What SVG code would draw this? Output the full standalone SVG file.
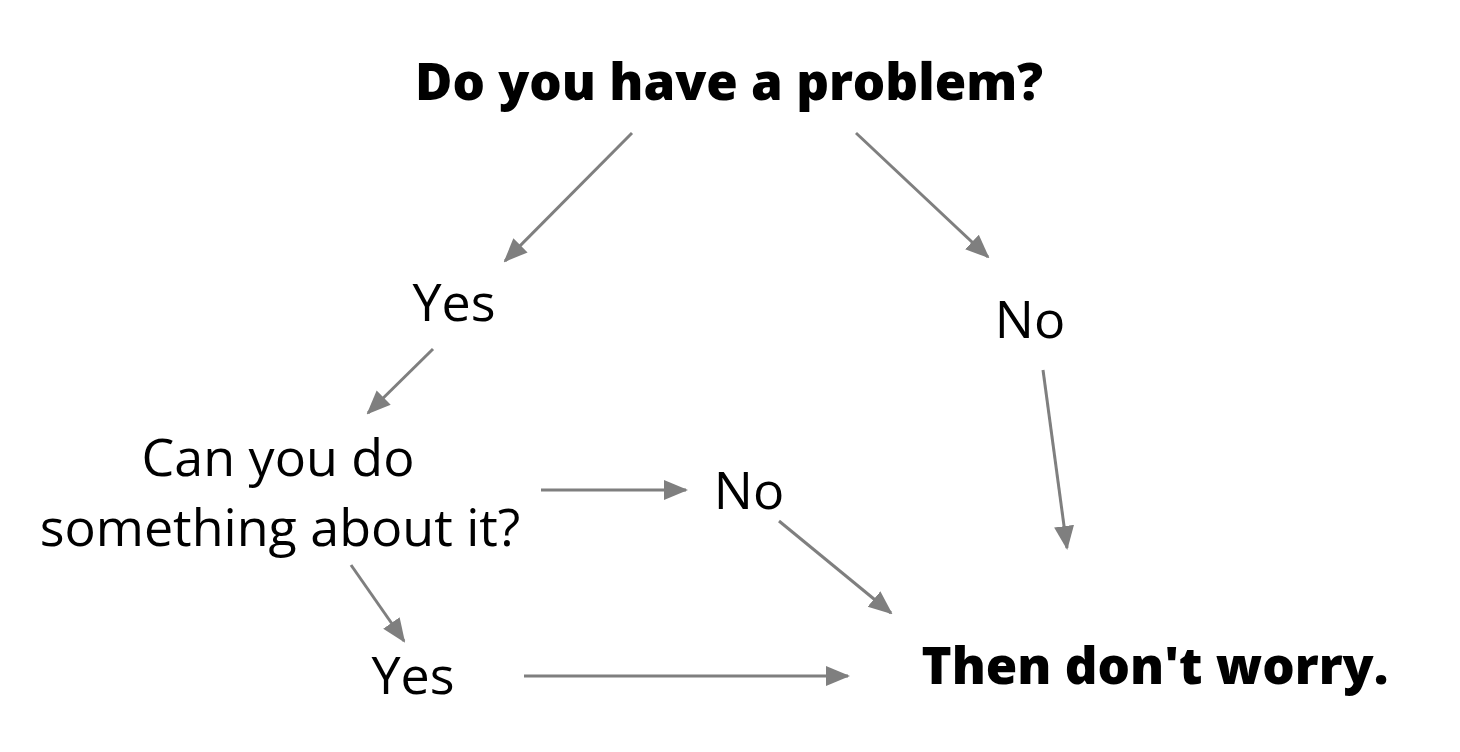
<svg xmlns="http://www.w3.org/2000/svg" width="1460" height="752" viewBox="0 0 1460 752">
<style>
.t{font-family:"Open Sans","Noto Sans",sans-serif;font-size:52px;fill:#000;text-anchor:middle}
.b{font-weight:800;font-size:51px}
.c line{stroke:#7f7f7f;stroke-width:3;marker-end:url(#ah)}
</style>
<defs>
<marker id="ah" markerUnits="userSpaceOnUse" markerWidth="24" markerHeight="24" viewBox="0 0 24 24" refX="22" refY="12" orient="auto">
<path d="M0,2 L24,12 L0,22 Z" fill="#7f7f7f"/>
</marker>
</defs>
<rect width="1460" height="752" fill="#fff"/>
<g class="c" id="connectors">
<line x1="632" y1="133" x2="505" y2="261"/>
<line x1="856" y1="133" x2="988" y2="257"/>
<line x1="433" y1="349" x2="368" y2="413"/>
<line x1="541" y1="490" x2="686" y2="490"/>
<line x1="779" y1="521" x2="891" y2="613"/>
<line x1="1043" y1="370" x2="1067" y2="548"/>
<line x1="351" y1="565" x2="404" y2="641"/>
<line x1="524" y1="676" x2="848" y2="676"/>
</g>
<g id="q1"><text class="t b" x="729" y="100">Do you have a problem?</text></g>
<g id="yes1"><text class="t" x="454" y="321">Yes</text></g>
<g id="no1"><text class="t" x="1030" y="338">No</text></g>
<g id="q2"><text class="t" x="278" y="476">Can you do</text><text class="t" x="280" y="546">something about it?</text></g>
<g id="no2"><text class="t" x="749" y="509">No</text></g>
<g id="yes2"><text class="t" x="413" y="694">Yes</text></g>
<g id="end"><text class="t b" x="1155" y="684">Then don't worry.</text></g>
</svg>
